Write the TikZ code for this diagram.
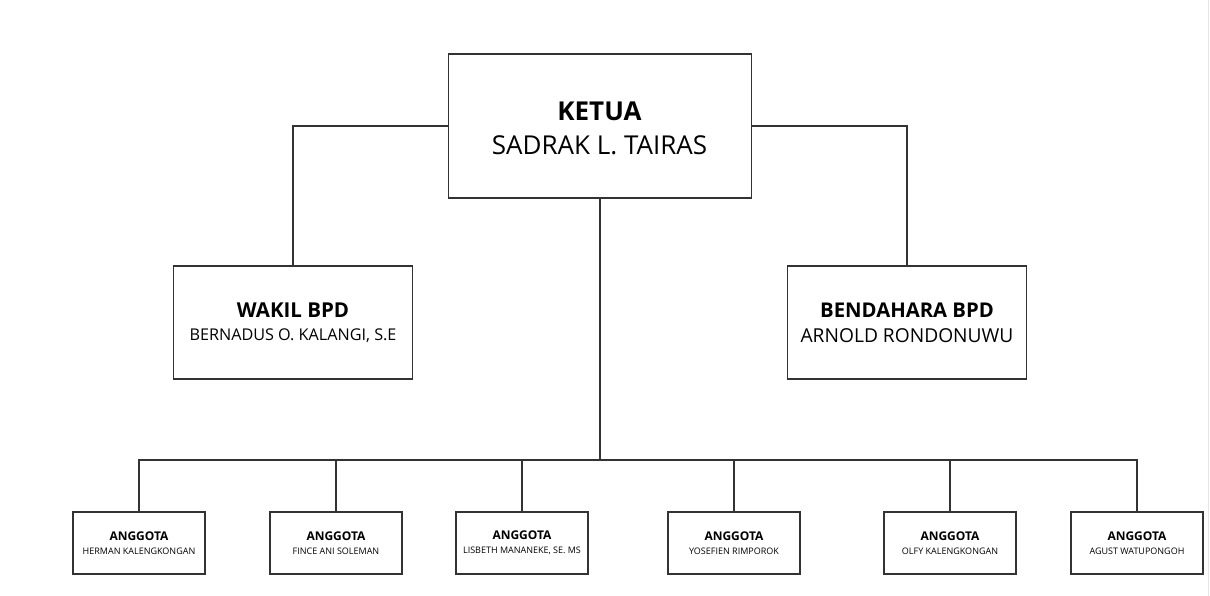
\documentclass[tikz,border=0pt]{standalone}
\usepackage{fontspec}
\setmainfont{Open Sans}
\begin{document}
\begin{tikzpicture}[x=1pt,y=-1pt,
  conn/.style={line width=1.6pt,draw=black!80,line join=miter},
  bigbox/.style={draw=black!80,line width=1.5pt,fill=white,align=center,inner sep=0pt},
  smallbox/.style={draw=black!80,line width=1.5pt,fill=white,align=center,inner sep=0pt,
     minimum width=132pt,minimum height=62pt,font={\fontsize{12}{14}\selectfont}}]
\useasboundingbox (0,0) rectangle (1210,596);
\fill[white] (0,0) rectangle (1210,596);
\draw[gray!20,line width=1.5pt] (1208.5,0) -- (1208.5,596);

\node[bigbox,minimum width=303pt,minimum height=144pt] (ketua) at (600,126) {};
\node[align=center,inner sep=0pt,font={\fontsize{26}{34}\selectfont}] (ketuatxt) at (599.5,128.5)
  {\textbf{KETUA}\\SADRAK L. TAIRAS};
\node[bigbox,minimum width=239pt,minimum height=113pt,font={\fontsize{20.5}{23}\selectfont}] (wakil) at (293,322.5)
  {\textbf{WAKIL BPD}\\\fontsize{16.2}{23}\selectfont BERNADUS O. KALANGI, S.E};
\node[bigbox,minimum width=239pt,minimum height=113pt,font={\fontsize{20.3}{25}\selectfont}] (bend) at (907,322.5)
  {\textbf{BENDAHARA BPD}\\\fontsize{19.2}{25}\selectfont ARNOLD RONDONUWU};

\newcommand{\anggota}[1]{\textbf{ANGGOTA}\\\fontsize{9}{14}\selectfont #1}
\node[smallbox] (a1) at (139,543) {\anggota{HERMAN KALENGKONGAN}};
\node[smallbox] (a2) at (336,543) {\anggota{FINCE ANI SOLEMAN}};
\node[smallbox] (a3) at (522,543) {\anggota{LISBETH MANANEKE, SE. MS}};
\node[smallbox] (a4) at (734,543) {\anggota{YOSEFIEN RIMPOROK}};
\node[smallbox] (a5) at (950,543) {\anggota{OLFY KALENGKONGAN}};
\node[smallbox] (a6) at (1137,543) {\anggota{AGUST WATUPONGOH}};

\coordinate (bus) at (600,460);
\draw[conn] (ketua.west) -| (wakil.north);
\draw[conn] (ketua.east) -| (bend.north);
\draw[conn] (ketua.south) -- (bus);
\draw[conn] (a1.north) |- (bus);
\draw[conn] (a6.north) |- (bus);
\draw[conn] (a2.north) -- (a2.north |- bus);
\draw[conn] (a3.north) -- (a3.north |- bus);
\draw[conn] (a4.north) -- (a4.north |- bus);
\draw[conn] (a5.north) -- (a5.north |- bus);
\end{tikzpicture}
\end{document}
